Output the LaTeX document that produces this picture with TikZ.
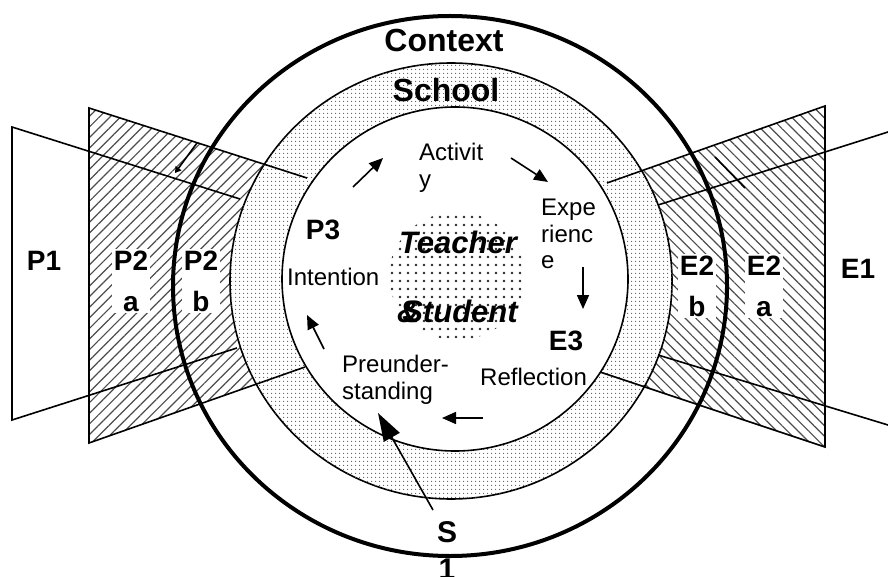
\documentclass[tikz,border=0pt]{standalone}
\usepackage{fontspec}
\setmainfont{Liberation Sans}
\usetikzlibrary{arrows.meta,patterns.meta}

\begin{document}
\begin{tikzpicture}[x=1pt,y=-1pt,
	ring/.style={line width=1.6pt},
	hatchl/.style={pattern={Lines[angle=45,distance=7.5pt,line width=1.2pt]},pattern color=black!70},
	hatchr/.style={pattern={Lines[angle=-45,distance=7.5pt,line width=1.2pt]},pattern color=black!70},
	lbl/.style={font=\fontsize{28}{41}\selectfont\bfseries,align=center,inner sep=1.5pt},
	big/.style={font=\fontsize{32}{38}\selectfont\bfseries,inner sep=0pt},
	txt/.style={font=\fontsize{24}{26.5}\selectfont,align=left,inner sep=0pt},
	ts/.style={font=\fontsize{31}{36}\selectfont\bfseries\itshape,inner sep=0pt},
	arr/.style={line width=1.6pt,-{Triangle[length=14pt,width=12pt]}}]

	\useasboundingbox (0,0) rectangle (888,577);

	% trapezoid corners
	\coordinate (p1t) at (12,127);
	\coordinate (p1b) at (12,420);
	\coordinate (p1te) at (240,199);
	\coordinate (p1be) at (237,348);
	\coordinate (p2t) at (89,108);
	\coordinate (p2b) at (89,443);
	\coordinate (p2te) at (307,178);
	\coordinate (p2be) at (305,367);
	\coordinate (e2t) at (825,106);
	\coordinate (e2b) at (825,447);
	\coordinate (e2te) at (607,183);
	\coordinate (e2be) at (600,372);
	\coordinate (e1t) at (888,132);
	\coordinate (e1b) at (888,425);
	\coordinate (e1te) at (658,205);
	\coordinate (e1be) at (658,355);

	\fill[hatchl] (p2t) -- (p2te) -- (p2be) -- (p2b) -- cycle;
	\fill[hatchr] (e2t) -- (e2te) -- (e2be) -- (e2b) -- cycle;

	\draw[ring,fill=white] (451,281) ellipse [x radius=221,y radius=218];
	\fill[pattern={Dots[distance=4pt,radius=0.7pt]},pattern color=black!65] (451,281) ellipse [x radius=221,y radius=218];
	\draw[ring,fill=white] (455,279) ellipse [x radius=173,y radius=172];
	\fill[pattern={Dots[distance=8pt,radius=1.4pt]},pattern color=black!85] (457,276) ellipse [x radius=68,y radius=64];
	\draw[line width=4pt] (450,286) ellipse [x radius=277,y radius=270];

	\draw[ring] (p1te) -- (p1t) -- (p1b) -- (p1be);
	\draw[ring] (p2te) -- (p2t) -- (p2b) -- (p2be);
	\draw[ring] (e2te) -- (e2t) -- (e2b) -- (e2be);
	\draw[ring] (e1t) -- (e1te);
	\draw[ring] (e1be) -- (e1b);

	% arrows of the cycle
	\coordinate (a1s) at (353,187);
	\coordinate (a1e) at (383,158);
	\coordinate (a2s) at (511,158);
	\coordinate (a2e) at (548,182);
	\coordinate (a3s) at (583,267);
	\coordinate (a3e) at (583,309);
	\coordinate (a4s) at (483,418);
	\coordinate (a4e) at (442,418);
	\coordinate (a5s) at (324,349);
	\coordinate (a5e) at (307,315);
	\coordinate (sas) at (433,510);
	\coordinate (sae) at (378,413);
	\coordinate (las) at (197,143);
	\coordinate (lae) at (175,173);
	\coordinate (ras) at (715,157);
	\coordinate (rae) at (745,188);

	\path[arr] (a1s) edge (a1e);
	\path[arr] (a2s) edge (a2e);
	\path[arr] (a3s) edge (a3e);
	\path[arr] (a4s) edge (a4e);
	\path[arr] (a5s) edge (a5e);
	\path[arr,-{Triangle[length=28pt,width=18pt]}] (sas) edge (sae);
	\path[ring,-{Triangle[length=6pt,width=7pt]}] (las) edge (lae);
	\path[ring] (ras) edge (rae);

	\node[big] (context) at (444,40) {Context};
	\node[big] (school) at (446,90) {School};

	\node[txt,anchor=north west] (activity) at (419,143) {Activit\\y};
	\node[txt,anchor=north west] (experience) at (541,199) {Expe\\rienc\\e};
	\node[txt,anchor=base west] (intention) at (287,285) {Intention};
	\node[txt,anchor=north west] (preund) at (342,355) {Preunder-\\standing};
	\node[txt,anchor=base west] (reflection) at (480,385) {Reflection};

	\node[lbl,inner sep=0pt] (pthree) at (323,230) {P3};
	\node[lbl,inner sep=0pt] (ethree) at (566,341) {E3};
	\node[ts,anchor=base] (teacher) at (458,254) {Teacher};
	\node[ts,anchor=base] (student) at (460,322) {Student};
	\node[ts,anchor=base west] (amp) at (397,322) {\&};

	\node[lbl,inner sep=0pt] (pone) at (44,261) {P1};
	\node[lbl,fill=white] (ptwoa) at (131,281) {P2\\a};
	\node[lbl,fill=white] (ptwob) at (201,281) {P2\\b};
	\node[lbl,fill=white] (etwob) at (697,286) {E2\\b};
	\node[lbl,fill=white] (etwoa) at (764,286) {E2\\a};
	\node[lbl,inner sep=0pt] (eone) at (858,269) {E1};
	\node[lbl,inner sep=0pt,font=\fontsize{30}{37}\selectfont\bfseries] (sone) at (447,551) {S\\1};

\end{tikzpicture}
\end{document}
